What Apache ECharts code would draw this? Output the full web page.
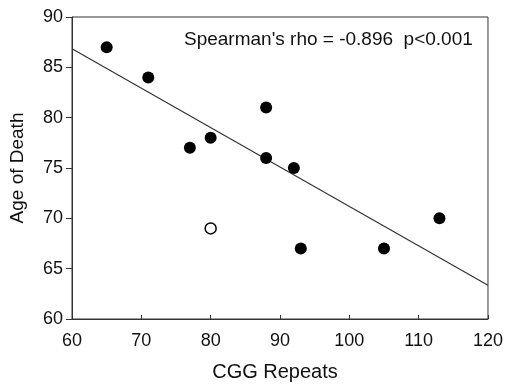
<!DOCTYPE html>
<html>
<head>
<meta charset="utf-8">
<script src="https://cdn.jsdelivr.net/npm/echarts@6/dist/echarts.min.js"></script>
<style>
html,body{margin:0;padding:0;background:#fff;}
#chart{width:506px;height:387px;}
</style>
</head>
<body>
<div id="chart"></div>
<script>
// Filled points: [CGG repeats, age of death]
var cggRepeats = [65, 71, 77, 80, 88, 88, 92, 93, 105, 113];
var ageOfDeath = [87, 84, 77, 78, 81, 76, 75, 67, 67, 70];
// Hollow (excluded) point
var hollowCgg = [80];
var hollowAge = [69];
// Regression line endpoints
var lineX = [60, 120];
var lineY = [86.85, 63.35];
// Axis ticks
var xTicks = [60, 70, 80, 90, 100, 110, 120];
var yTicks = [60, 65, 70, 75, 80, 85, 90];
var statText = "Spearman's rho = -0.896  p<0.001";

var font = 'Liberation Sans, Arial, sans-serif';
var ink = '#111';

function zip(a, b) { return a.map(function (v, i) { return [v, b[i]]; }); }

var chart = echarts.init(document.getElementById('chart'), null, {renderer: 'canvas'});
chart.setOption({
  animation: false,
  backgroundColor: '#fff',
  grid: {left: 72, right: 17, top: 17, bottom: 62, show: true, borderColor: '#333', borderWidth: 1},
  xAxis: {
    type: 'value', min: xTicks[0], max: xTicks[xTicks.length - 1], interval: 10,
    name: 'CGG Repeats', nameLocation: 'middle', nameGap: 43,
    nameTextStyle: {fontFamily: font, fontSize: 20, color: ink, padding: [0, 10, 0, 0]},
    axisLine: {show: true, lineStyle: {color: '#333', width: 1}},
    axisTick: {show: true, inside: true, length: 4, lineStyle: {color: '#333'}},
    axisLabel: {fontFamily: font, fontSize: 18, color: ink, margin: 13},
    splitLine: {show: false}
  },
  yAxis: {
    type: 'value', min: yTicks[0], max: yTicks[yTicks.length - 1], interval: 5,
    name: 'Age of Death', nameLocation: 'middle', nameGap: 45, nameRotate: 90,
    nameTextStyle: {fontFamily: font, fontSize: 19, color: ink},
    axisLine: {show: true, lineStyle: {color: '#333', width: 1}},
    axisTick: {show: true, inside: false, length: 6, lineStyle: {color: '#333'}},
    axisLabel: {fontFamily: font, fontSize: 18, color: ink, margin: 9},
    splitLine: {show: false}
  },
  graphic: [{
    type: 'text', left: 184, top: 30,
    style: {text: statText, fontFamily: font, fontSize: 19, fill: ink}
  }],
  series: [
    {
      type: 'line', data: zip(lineX, lineY), showSymbol: false, symbol: 'none',
      lineStyle: {color: '#333', width: 1.2}, z: 2, silent: true
    },
    {
      type: 'scatter', data: zip(cggRepeats, ageOfDeath), symbol: 'circle', symbolSize: 12,
      itemStyle: {color: '#000', opacity: 1}, z: 3
    },
    {
      type: 'scatter', data: zip(hollowCgg, hollowAge), symbol: 'circle', symbolSize: 11,
      itemStyle: {color: '#fff', borderColor: '#000', borderWidth: 1.5, opacity: 1}, z: 3
    }
  ]
});
</script>
</body>
</html>
